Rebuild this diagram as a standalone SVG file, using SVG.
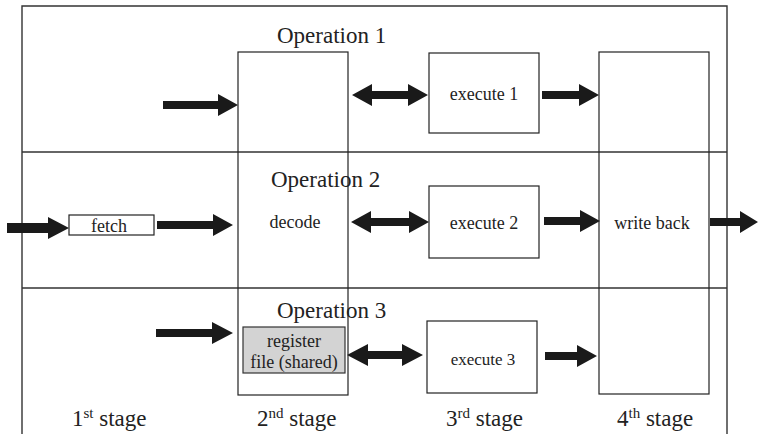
<svg xmlns="http://www.w3.org/2000/svg" width="758" height="434" viewBox="0 0 758 434">
<style>
.frame{fill:none;stroke:#333;stroke-width:1.4}
.box{fill:#fff;stroke:#222;stroke-width:1.2}
.col{fill:none;stroke:#222;stroke-width:1.2}
.reg{fill:#d3d3d3;stroke:#333;stroke-width:1.2}
.arr{fill:#1a1a1a}
.t{font-family:"Liberation Serif","Times New Roman",serif;fill:#222}
.op{font-size:23px}
.lb{font-size:18px}
.st{font-size:23px}
.sup{font-size:15px}
</style>
<rect width="758" height="434" fill="#fff"/>
<g id="frame">
<path class="frame" d="M22,434 V6 H727 V434"/>
<line class="frame" x1="22" y1="152" x2="727" y2="152"/>
<line class="frame" x1="22" y1="288" x2="727" y2="288"/>
</g>
<g id="decode">
<rect class="col" x="238" y="52" width="110" height="343"/>
<text class="t lb" x="295" y="228" text-anchor="middle">decode</text>
</g>
<g id="writeback">
<rect class="col" x="599" y="52" width="110" height="342"/>
<text class="t lb" x="652" y="229" text-anchor="middle">write back</text>
</g>
<g id="execute1">
<rect class="box" x="429" y="53" width="110" height="80"/>
<text class="t lb" x="484" y="100" text-anchor="middle">execute 1</text>
</g>
<g id="execute2">
<rect class="box" x="429" y="186" width="110" height="72"/>
<text class="t lb" x="484" y="229" text-anchor="middle">execute 2</text>
</g>
<g id="execute3">
<rect class="box" x="427" y="321" width="110" height="72"/>
<text class="t lb" x="483" y="365" text-anchor="middle" style="font-size:17px">execute 3</text>
</g>
<g id="fetch">
<rect class="box" x="69" y="215" width="85" height="20"/>
<text class="t lb" x="109" y="232" text-anchor="middle">fetch</text>
</g>
<g id="register">
<rect class="reg" x="243" y="327" width="102" height="46"/>
<text class="t lb" x="294" y="347" text-anchor="middle">register</text>
<text class="t lb" x="294" y="368" text-anchor="middle">file (shared)</text>
</g>
<g id="labels">
<text class="t op" x="277" y="43">Operation 1</text>
<text class="t op" x="271" y="187">Operation 2</text>
<text class="t op" x="277" y="318">Operation 3</text>
<text class="t st" x="72" y="426">1<tspan class="sup" dy="-8">st</tspan><tspan dy="8"> stage</tspan></text>
<text class="t st" x="257" y="426">2<tspan class="sup" dy="-8">nd</tspan><tspan dy="8"> stage</tspan></text>
<text class="t st" x="446" y="426">3<tspan class="sup" dy="-8">rd</tspan><tspan dy="8"> stage</tspan></text>
<text class="t st" x="617" y="426">4<tspan class="sup" dy="-8">th</tspan><tspan dy="8"> stage</tspan></text>
</g>
<g id="connectors">
<polygon class="arr" points="163,101 218,101 218,94 238,105 218,116 218,109 163,109"/>
<polygon class="arr" points="352,95 372,84 372,91 408,91 408,84 428,95 408,106 408,99 372,99 372,106"/>
<polygon class="arr" points="542,91 579,91 579,84 599,95 579,106 579,99 542,99"/>
<polygon class="arr" points="7,223 48,223 48,217 69,228 48,239 48,233 7,233"/>
<polygon class="arr" points="157,221 213,221 213,214 233,225 213,236 213,229 157,229"/>
<polygon class="arr" points="351,222 371,211 371,218 409,218 409,211 429,222 409,233 409,226 371,226 371,233"/>
<polygon class="arr" points="544,217 580,217 580,210 600,221 580,232 580,225 544,225"/>
<polygon class="arr" points="710,218 740,218 740,211 758,222 740,233 740,226 710,226"/>
<polygon class="arr" points="156,329 212,329 212,322 233,333 212,344 212,337 156,337"/>
<polygon class="arr" points="347,355 368,344 368,351 402,351 402,344 423,355 402,366 402,359 368,359 368,366"/>
<polygon class="arr" points="545,352 577,352 577,345 597,356 577,367 577,360 545,360"/>
</g>
</svg>
